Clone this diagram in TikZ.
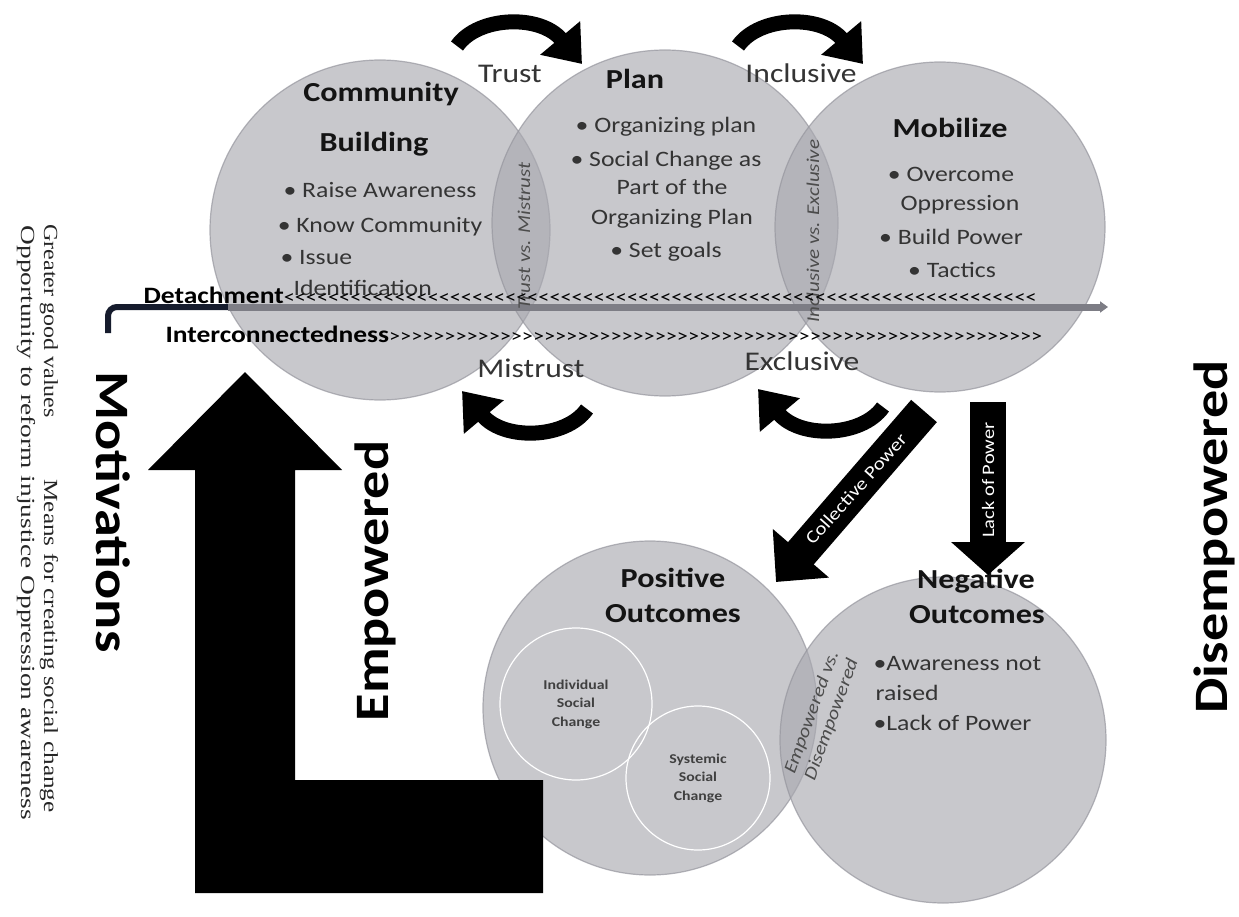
\documentclass[tikz,border=0pt]{standalone}
\usepackage{fontspec}
\setmainfont{Carlito}[FakeStretch=1.17]
\newfontfamily\serfont{Liberation Serif}[FakeStretch=1.2]
\newfontfamily\sermid{Liberation Serif}[FakeStretch=1.26]
\newfontfamily\serwide{Liberation Serif}[FakeStretch=1.37]
\usetikzlibrary{arrows.meta}
\definecolor{bubblegray}{RGB}{169,169,176}
\definecolor{bubbleedge}{RGB}{150,150,158}
\definecolor{bartone}{RGB}{125,125,133}
\definecolor{bracketblue}{RGB}{22,28,45}
\definecolor{textgray}{RGB}{52,52,52}
\newcommand\fsz[2]{\fontsize{#1}{#2}\selectfont}
\newcommand\repchar[2]{\foreach \i in {1,...,#1}{#2}}
\tikzset{
  bubble/.style={circle,fill=bubblegray,fill opacity=.64,draw=bubbleedge,draw opacity=.7,line width=1.2pt,inner sep=0pt},
  innerbubble/.style={circle,draw=white,line width=1.2pt,inner sep=0pt},
  title/.style={anchor=base,font=\fsz{27.5}{30}\bfseries,text=black!92},
  item/.style={anchor=base,font=\fsz{22}{26},text=textgray},
  link/.style={anchor=base,font=\fsz{27}{30},text=textgray},
  vslabel/.style={font=\fsz{18}{21}\itshape,text=black!70},
  bigword/.style={font=\fsz{48}{52}\bfseries,text=black},
  sideline/.style={rotate=-90,anchor=base west,text=black!85},
  turnarrow/.style={line width=15pt,-{Triangle[length=34pt,width=50pt]}},
  block/.style={line width=#1,-{Triangle[length=38pt,width=72pt]}},
}
\begin{document}
\begin{tikzpicture}[x=1pt,y=-1pt]
\fill[white] (0,0) rectangle (1239,917);
\useasboundingbox (0,0) rectangle (1239,917);
% circles
\node[bubble,minimum size=340pt] (community) at (380,230) {};
\node[bubble,minimum size=346pt] (plan) at (665,223) {};
\node[bubble,minimum size=330pt] (mobilize) at (940,227) {};
\node[bubble,minimum size=334pt] (positive) at (650,708) {};
\node[bubble,minimum size=326pt] (negative) at (943,740) {};
\node[innerbubble,minimum size=152pt] (individual) at (576,704) {};
\node[innerbubble,minimum size=144pt] (systemic) at (698,778) {};
% bar
\coordinate (barfoot) at (108,333);
\coordinate (barbend) at (108,307);
\coordinate (barjoin) at (228,307);
\coordinate (barend) at (1108,307);
\draw[bracketblue,line width=6pt,rounded corners=9pt] (barfoot) -- (barbend) -- (barjoin);
\draw[bartone,line width=7pt,-{Triangle[length=8pt,width=11pt]}] (barjoin) -- (barend);
% texts in the circles
\node[title] (cb1) at (381,102) {Community};
\node[title] (cb2) at (374,152) {Building};
\node[item] (cbi1) at (380,198) {• Raise Awareness};
\node[item] (cbi2) at (380,233) {• Know Community};
\node[item,anchor=base west] (cbi3) at (277,265) {• Issue};
\node[item,anchor=base west] (cbi4) at (290,295) {Identification};
\node[title] (pl) at (635,89) {Plan};
\node[item] (pli1) at (666,133) {• Organizing plan};
\node[item] (pli2) at (666,167) {• Social Change as};
\node[item] (pli3) at (672,195) {Part of the};
\node[item] (pli4) at (672,225) {Organizing Plan};
\node[item] (pli5) at (666,258) {• Set goals};
\node[title] (mo) at (950,138) {Mobilize};
\node[item] (moi1) at (951,182) {• Overcome};
\node[item] (moi2) at (960,211) {Oppression};
\node[item] (moi3) at (951,245) {• Build Power};
\node[item] (moi4) at (952,277) {• Tactics};
\node[title] (po1) at (673,587) {Positive};
\node[title] (po2) at (673,622) {Outcomes};
\node[title] (ne1) at (976,588) {Negative};
\node[title] (ne2) at (977,623) {Outcomes};
\node[item,anchor=base west] (nei1) at (870,670) {•Awareness not};
\node[item,anchor=base west] (nei2) at (872,700) {raised};
\node[item,anchor=base west] (nei3) at (870,730) {•Lack of Power};
\node[align=center,font=\fsz{13.5}{18.5}\bfseries,text=black!75] (ind) at (individual) {Individual\\Social\\Change};
\node[align=center,font=\fsz{13.5}{18.5}\bfseries,text=black!75] (sys) at (systemic) {Systemic\\Social\\Change};
\node[vslabel,rotate=90] (tvm) at (524,236) {Trust vs. Mistrust};
\node[vslabel,rotate=90] (ive) at (813,231) {Inclusive vs. Exclusive};
\node[vslabel,rotate=70,align=center,font=\fsz{18}{21}\itshape] (evd) at (822,716) {Empowered vs.\\Disempowered};
% detachment line
\node[anchor=base west,text=black] (det) at (140,303) {\fsz{23.5}{28}\textbf{Detachment}\fsz{19}{22}\repchar{68}{<}};
\node[anchor=base west,text=black] (int) at (162,342) {\fsz{23.5}{28}\textbf{Interconnectedness}\fsz{19}{22}\repchar{59}{>}};
\node[link] (tr) at (510,83) {Trust};
\node[link] (inc) at (801,83) {Inclusive};
\node[link] (mis) at (531,377) {Mistrust};
\node[link] (exc) at (802,370) {Exclusive};
% curved arrows
\draw[turnarrow] (457,46) .. controls (478,16) and (540,14) .. (582,64);
\draw[turnarrow] (738,46) .. controls (759,16) and (821,14) .. (863,64);
\draw[turnarrow] (587,409) .. controls (566,439) and (504,441) .. (462,391);
\draw[turnarrow] (883,407) .. controls (862,437) and (800,439) .. (758,389);
% power arrows
\coordinate (cpstart) at (924,411);
\coordinate (cptip) at (776,582);
\coordinate (lpstart) at (988,402);
\coordinate (lptip) at (988,575);
\draw[block=34pt] (cpstart) -- (cptip);
\draw[block=36pt,-{Triangle[length=33pt,width=72pt]}] (lpstart) -- (lptip);
\node[rotate=48,text=white,font=\fsz{18}{20}] (cpl) at (856,489) {Collective Power};
\node[rotate=90,text=white,font=\fsz{17.5}{20}] (lpl) at (988,480) {Lack of Power};
% L arrow
\fill[black] (245,372) -- (342,470) -- (295,470) -- (295,780) -- (543,780) -- (543,893)
  -- (195,893) -- (195,470) -- (148,470) -- cycle;
% side words
\node[bigword,rotate=90] (emp) at (375,581) {Empowered};
\node[bigword,rotate=90] (dis) at (1214,537) {Disempowered};
\node[bigword,rotate=-90] (mot) at (113,512) {Motivations};
\node[sideline,font=\serfont\fsz{20}{24}] (gg) at (44,221) {Greater good values};
\node[sideline,font=\sermid\fsz{20}{24}] (mean) at (44,476) {Means for creating social change};
\node[sideline,font=\serwide\fsz{20}{24}] (opp) at (21,222) {Opportunity to reform injustice Oppression awareness};
\end{tikzpicture}
\end{document}
